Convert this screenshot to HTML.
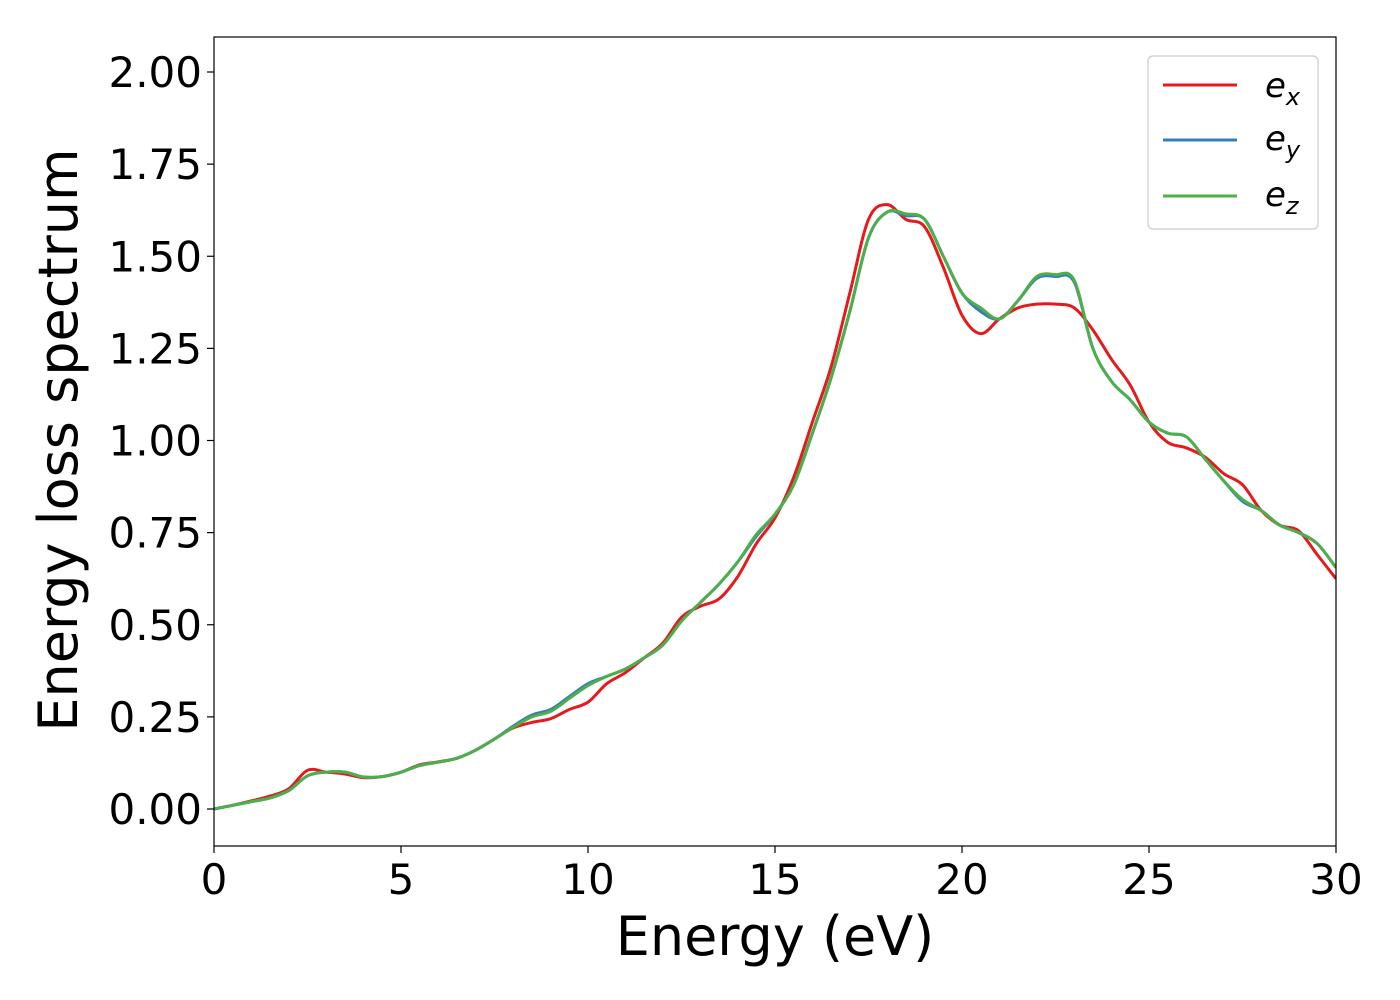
<!DOCTYPE html>
<html><head><meta charset="utf-8"><style>
html,body{margin:0;padding:0;background:#fff;}
svg{display:block;font-family:"DejaVu Sans","Liberation Sans",sans-serif;}
</style></head><body>
<svg id="chart" width="1400" height="1000" viewBox="0 0 1400 1000" xmlns="http://www.w3.org/2000/svg">
<rect x="0" y="0" width="1400" height="1000" fill="#fff"/>
<g id="grid"></g>
<g id="series"></g>
<rect x="214" y="37" width="1122" height="809" fill="none" stroke="#000" stroke-width="1.2"/>
<g id="xticks"></g>
<g id="yticks"></g>
<text x="775" y="955" font-size="54" text-anchor="middle">Energy (eV)</text>
<text x="0" y="0" font-size="54" text-anchor="middle" transform="translate(77,440) rotate(-90)">Energy loss spectrum</text>
<g>
<rect x="1148" y="56" width="170" height="173" rx="5" fill="#fff" fill-opacity="0.8" stroke="#ccc" stroke-width="1.2"/>
<line x1="1163" y1="85" x2="1237" y2="85" stroke="#e41a1c" stroke-width="3"/>
<text x="1265" y="97" font-size="34" font-style="italic">e<tspan font-size="24" dy="8">x</tspan></text>
<line x1="1163" y1="140" x2="1237" y2="140" stroke="#377eb8" stroke-width="3"/>
<text x="1265" y="150" font-size="34" font-style="italic">e<tspan font-size="24" dy="8">y</tspan></text>
<line x1="1163" y1="196" x2="1237" y2="196" stroke="#4daf4a" stroke-width="3"/>
<text x="1265" y="206" font-size="34" font-style="italic">e<tspan font-size="24" dy="8">z</tspan></text>
</g>
</svg>
<script>
const energies = [0,0.5,1,1.5,2,2.5,3,3.5,4,4.5,5,5.5,6,6.5,7,7.5,8,8.5,9,9.5,10,10.5,11,11.5,12,12.5,13,13.5,14,14.5,15,15.5,16,16.5,17,17.5,18,18.5,19,19.5,20,20.5,21,21.5,22,22.5,23,23.5,24,24.5,25,25.5,26,26.5,27,27.5,28,28.5,29,29.5,30];
const ex = [0,0.01,0.022,0.035,0.055,0.105,0.10,0.095,0.085,0.088,0.10,0.12,0.128,0.138,0.16,0.19,0.22,0.235,0.245,0.27,0.29,0.34,0.37,0.41,0.45,0.52,0.55,0.57,0.63,0.72,0.79,0.90,1.05,1.20,1.40,1.60,1.64,1.60,1.58,1.47,1.34,1.29,1.33,1.36,1.37,1.37,1.36,1.30,1.22,1.15,1.05,0.995,0.98,0.955,0.91,0.88,0.81,0.77,0.755,0.69,0.625];
const ey = [0,0.01,0.02,0.03,0.05,0.09,0.10,0.10,0.087,0.088,0.10,0.118,0.127,0.138,0.16,0.19,0.225,0.255,0.27,0.305,0.34,0.36,0.38,0.41,0.445,0.51,0.56,0.61,0.67,0.74,0.80,0.88,1.02,1.17,1.35,1.55,1.62,1.61,1.60,1.50,1.40,1.35,1.33,1.38,1.44,1.445,1.43,1.25,1.16,1.11,1.05,1.02,1.01,0.95,0.89,0.835,0.81,0.77,0.75,0.72,0.655];
const ez = [0,0.01,0.02,0.03,0.05,0.09,0.10,0.10,0.087,0.088,0.10,0.118,0.127,0.138,0.16,0.19,0.222,0.25,0.265,0.30,0.335,0.36,0.38,0.41,0.445,0.51,0.56,0.61,0.67,0.745,0.80,0.88,1.02,1.17,1.35,1.55,1.62,1.615,1.60,1.50,1.40,1.36,1.33,1.38,1.445,1.45,1.435,1.25,1.16,1.11,1.05,1.02,1.01,0.95,0.89,0.84,0.81,0.77,0.75,0.72,0.655];
const xTicks = [0,5,10,15,20,25,30];
const yTicks = [0,0.25,0.5,0.75,1.0,1.25,1.5,1.75,2.0];
const yTickLabels = ["0.00","0.25","0.50","0.75","1.00","1.25","1.50","1.75","2.00"];

const X0=214,X1=1336,XMIN=0,XMAX=30;
const YZERO=809,YPX=368.5;
function xs(v){return X0+(v-XMIN)/(XMAX-XMIN)*(X1-X0);}
function ys(v){return YZERO-v*YPX;}
const NS="http://www.w3.org/2000/svg";

function smoothPath(xv,yv){
  const p=xv.map((x,i)=>[xs(x),ys(yv[i])]);
  let d="M"+p[0][0].toFixed(2)+","+p[0][1].toFixed(2);
  for(let i=0;i<p.length-1;i++){
    const a=p[i-1]||p[i],b=p[i],c=p[i+1],e=p[i+2]||c;
    const c1=[b[0]+(c[0]-a[0])/6,b[1]+(c[1]-a[1])/6];
    const c2=[c[0]-(e[0]-b[0])/6,c[1]-(e[1]-b[1])/6];
    d+=" C"+c1[0].toFixed(2)+","+c1[1].toFixed(2)+" "+c2[0].toFixed(2)+","+c2[1].toFixed(2)+" "+c[0].toFixed(2)+","+c[1].toFixed(2);
  }
  return d;
}
const sg=document.getElementById("series");
const defs=document.createElementNS(NS,"clipPath");
defs.setAttribute("id","clip");
const cr=document.createElementNS(NS,"rect");
cr.setAttribute("x",214);cr.setAttribute("y",37);cr.setAttribute("width",1122);cr.setAttribute("height",809);
defs.appendChild(cr);
document.getElementById("chart").appendChild(defs);
sg.setAttribute("clip-path","url(#clip)");
[[ex,"#e41a1c","series-ex"],[ey,"#377eb8","series-ey"],[ez,"#4daf4a","series-ez"]].forEach(s=>{
  const path=document.createElementNS(NS,"path");
  path.setAttribute("d",smoothPath(energies,s[0]));
  path.setAttribute("fill","none");
  path.setAttribute("stroke",s[1]);
  path.setAttribute("stroke-width","3");
  path.setAttribute("stroke-linejoin","round");
  
  
  sg.appendChild(path);
});
const xg=document.getElementById("xticks");
xTicks.forEach(t=>{
  const l=document.createElementNS(NS,"line");
  l.setAttribute("x1",xs(t));l.setAttribute("x2",xs(t));
  l.setAttribute("y1",846);l.setAttribute("y2",853);
  l.setAttribute("stroke","#000");l.setAttribute("stroke-width","1.2");
  
  
  xg.appendChild(l);
  const tx=document.createElementNS(NS,"text");
  tx.setAttribute("x",xs(t));tx.setAttribute("y",894);
  tx.setAttribute("font-size","42");tx.setAttribute("text-anchor","middle");
  tx.textContent=String(t);
  
  
  xg.appendChild(tx);
});
const yg=document.getElementById("yticks");
yTicks.forEach((t,i)=>{
  const l=document.createElementNS(NS,"line");
  l.setAttribute("x1",207);l.setAttribute("x2",214);
  l.setAttribute("y1",ys(t));l.setAttribute("y2",ys(t));
  l.setAttribute("stroke","#000");l.setAttribute("stroke-width","1.2");
  
  
  yg.appendChild(l);
  const tx=document.createElementNS(NS,"text");
  tx.setAttribute("x",202);tx.setAttribute("y",ys(t)+15);
  tx.setAttribute("font-size","42");tx.setAttribute("text-anchor","end");
  tx.textContent=yTickLabels[i];
  
  
  yg.appendChild(tx);
});
</script>
</body></html>
